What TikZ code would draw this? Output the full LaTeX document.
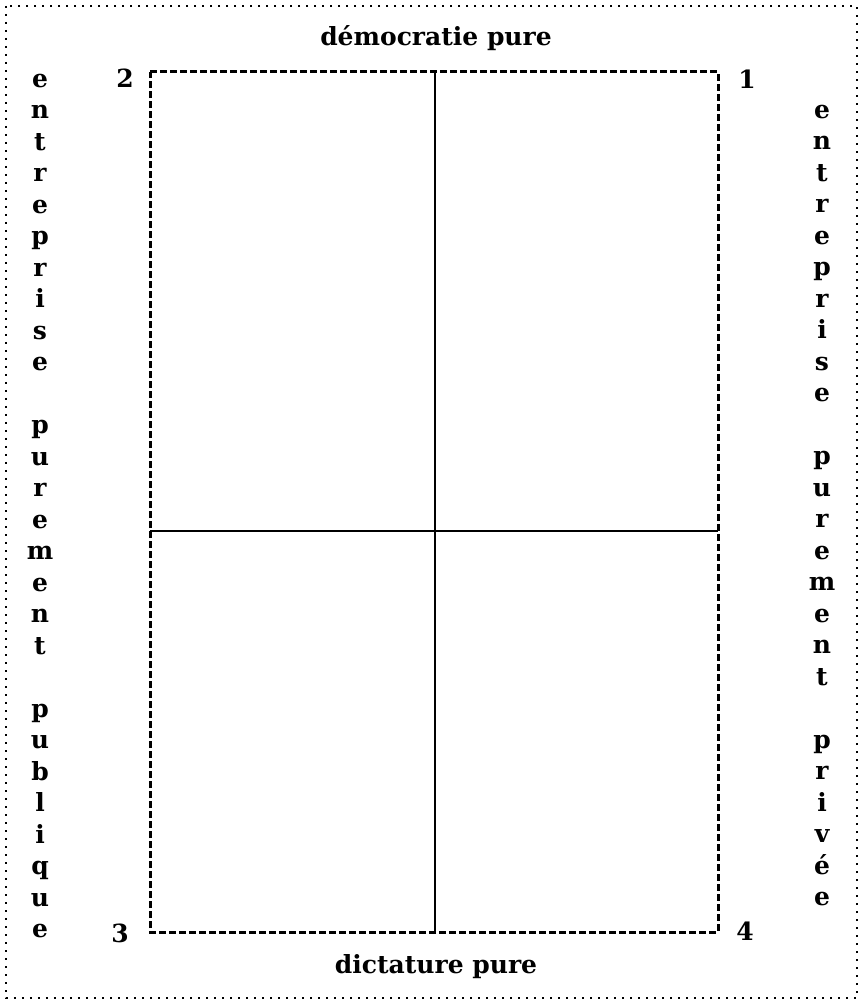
\documentclass[tikz,border=0pt]{standalone}
\usepackage{fontspec}
\setmainfont{DejaVu Serif}
\begin{document}
\begin{tikzpicture}[x=0.5pt,y=-0.5pt,
  lbl/.style={font=\bfseries\fontsize{12.5}{14}\selectfont, inner sep=0pt, anchor=mid},
  frame/.style={line width=0.9pt, dash pattern=on 0.9pt off 3.1pt},
  boxline/.style={line width=1.5pt, dash pattern=on 3.4pt off 1.6pt},
  axis/.style={line width=1.4pt}]
\useasboundingbox (0,0) rectangle (860,1004);
\draw[frame] (6,6) rectangle (857,998);
\coordinate (c1) at (718,72);
\coordinate (c2) at (150,72);
\coordinate (c3) at (150,932);
\coordinate (c4) at (718,932);
\draw[boxline] (c2) -- (c1) -- (c4) -- (c3) -- cycle;
\coordinate (vt) at (435,72);
\coordinate (vb) at (435,932);
\coordinate (hl) at (150,531);
\coordinate (hr) at (718,531);
\draw[axis] (vt) -- (vb);
\draw[axis] (hl) -- (hr);
\node[lbl] (n1) at (747,83) {1};
\node[lbl] (n2) at (125,82) {2};
\node[lbl] (n3) at (120,937) {3};
\node[lbl] (n4) at (745,935) {4};
\node[lbl] (top) at (436,40) {démocratie pure};
\node[lbl] (bot) at (436,968) {dictature pure};
\foreach \ch [count=\i from 0] in {e,n,t,r,e,p,r,i,s,e,{},p,u,r,e,m,e,n,t,{},p,u,b,l,i,q,u,e}
  \node[lbl] (L\i) at (40,82+\i*31.5) {\ch};
\foreach \ch [count=\i from 0] in {e,n,t,r,e,p,r,i,s,e,{},p,u,r,e,m,e,n,t,{},p,r,i,v,é,e}
  \node[lbl] (R\i) at (822,113+\i*31.5) {\ch};
\end{tikzpicture}
\end{document}
